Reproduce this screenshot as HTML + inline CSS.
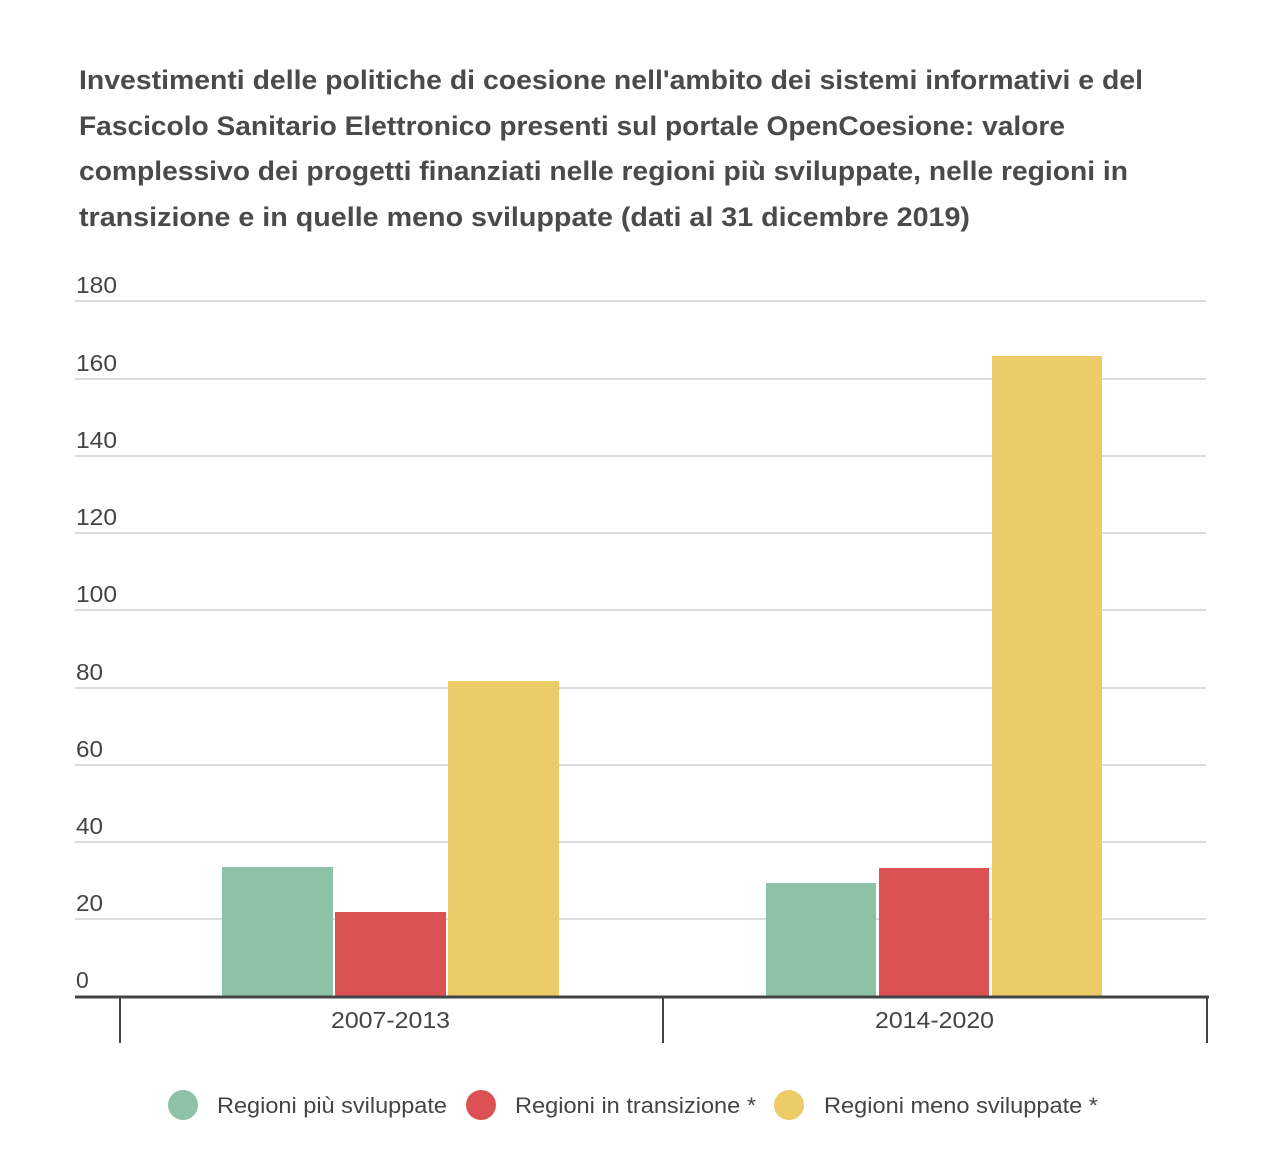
<!DOCTYPE html>
<html><head><meta charset="utf-8"><style>
body{margin:0;background:#fff}
svg{display:block}
text{font-family:"Liberation Sans",Arial,sans-serif}
</style></head><body>
<svg width="1278" height="1164" viewBox="0 0 1278 1164">
<rect width="1278" height="1164" fill="#fff"/>
<g font-size="27" font-weight="bold" fill="#4a4a4a">
<text x="79" y="89" textLength="1064" lengthAdjust="spacingAndGlyphs">Investimenti delle politiche di coesione nell'ambito dei sistemi informativi e del</text>
<text x="79" y="135" textLength="986" lengthAdjust="spacingAndGlyphs">Fascicolo Sanitario Elettronico presenti sul portale OpenCoesione: valore</text>
<text x="79" y="180" textLength="1049" lengthAdjust="spacingAndGlyphs">complessivo dei progetti finanziati nelle regioni più sviluppate, nelle regioni in</text>
<text x="79" y="226" textLength="891" lengthAdjust="spacingAndGlyphs">transizione e in quelle meno sviluppate (dati al 31 dicembre 2019)</text>
</g>
<g stroke="#dcdcdc" stroke-width="2">
<line x1="75" x2="1206" y1="301" y2="301"/>
<line x1="75" x2="1206" y1="379" y2="379"/>
<line x1="75" x2="1206" y1="456" y2="456"/>
<line x1="75" x2="1206" y1="533" y2="533"/>
<line x1="75" x2="1206" y1="610" y2="610"/>
<line x1="75" x2="1206" y1="688" y2="688"/>
<line x1="75" x2="1206" y1="765" y2="765"/>
<line x1="75" x2="1206" y1="842" y2="842"/>
<line x1="75" x2="1206" y1="919" y2="919"/>
</g>
<g font-size="23" fill="#444">
<text x="76" y="293" textLength="41" lengthAdjust="spacingAndGlyphs">180</text>
<text x="76" y="371" textLength="41" lengthAdjust="spacingAndGlyphs">160</text>
<text x="76" y="448" textLength="41" lengthAdjust="spacingAndGlyphs">140</text>
<text x="76" y="525" textLength="41" lengthAdjust="spacingAndGlyphs">120</text>
<text x="76" y="602" textLength="41" lengthAdjust="spacingAndGlyphs">100</text>
<text x="76" y="680" textLength="27" lengthAdjust="spacingAndGlyphs">80</text>
<text x="76" y="757" textLength="27" lengthAdjust="spacingAndGlyphs">60</text>
<text x="76" y="834" textLength="27" lengthAdjust="spacingAndGlyphs">40</text>
<text x="76" y="911" textLength="27" lengthAdjust="spacingAndGlyphs">20</text>
<text x="76" y="988">0</text>
</g>
<rect x="222" y="867" width="111" height="130" fill="#8dc2a6"/>
<rect x="335" y="912" width="111" height="85" fill="#dc5254"/>
<rect x="448" y="681" width="111" height="316" fill="#eecb69"/>
<rect x="766" y="883" width="110" height="114" fill="#8dc2a6"/>
<rect x="879" y="868" width="110" height="129" fill="#dc5254"/>
<rect x="992" y="356" width="110" height="641" fill="#eecb69"/>
<line x1="75" x2="1209" y1="997" y2="997" stroke="#444" stroke-width="3"/>
<g stroke="#444" stroke-width="2">
<line x1="120" x2="120" y1="997" y2="1043"/>
<line x1="663" x2="663" y1="997" y2="1043"/>
<line x1="1207" x2="1207" y1="997" y2="1043"/>
</g>
<g font-size="23" fill="#444">
<text x="331" y="1028" textLength="119" lengthAdjust="spacingAndGlyphs">2007-2013</text>
<text x="875" y="1028" textLength="119" lengthAdjust="spacingAndGlyphs">2014-2020</text>
</g>
<circle cx="183" cy="1105" r="15" fill="#8dc2a6"/>
<circle cx="481" cy="1105" r="15" fill="#dc5254"/>
<circle cx="789" cy="1105" r="15" fill="#eecb69"/>
<g font-size="22" fill="#444">
<text x="217" y="1113" textLength="230" lengthAdjust="spacingAndGlyphs">Regioni più sviluppate</text>
<text x="515" y="1113" textLength="241" lengthAdjust="spacingAndGlyphs">Regioni in transizione *</text>
<text x="824" y="1113" textLength="274" lengthAdjust="spacingAndGlyphs">Regioni meno sviluppate *</text>
</g>
</svg>
</body></html>
